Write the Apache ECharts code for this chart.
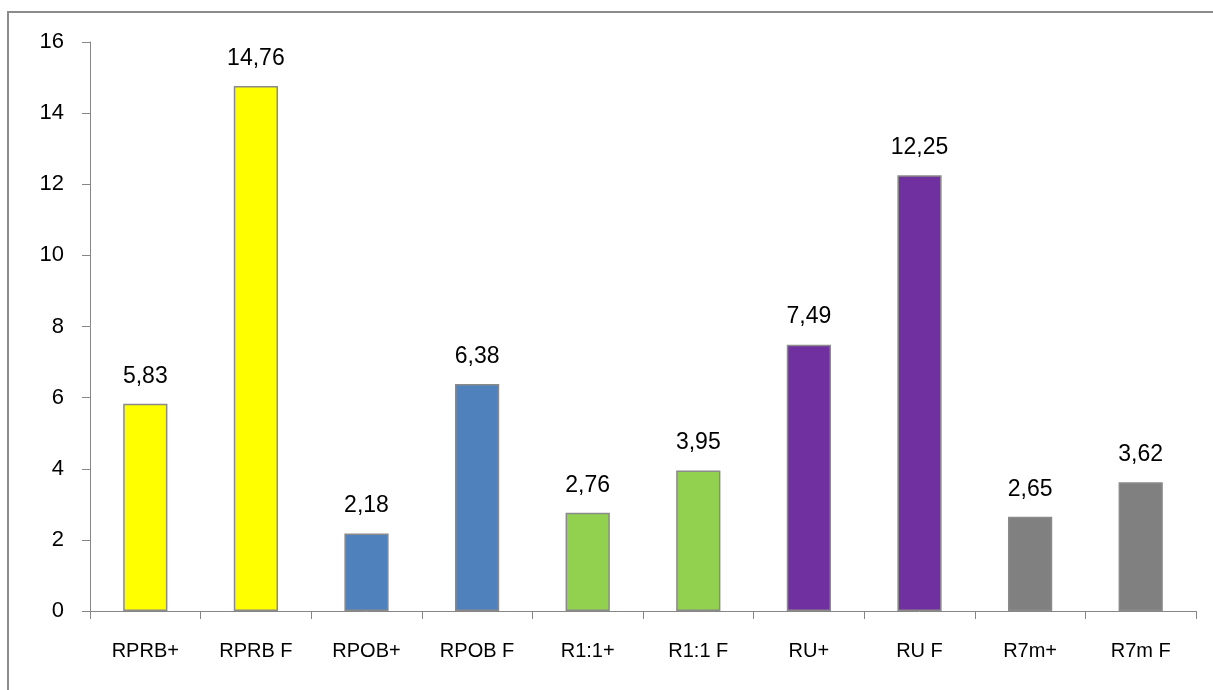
<!DOCTYPE html>
<html>
<head>
<meta charset="utf-8">
<script src="https://cdn.jsdelivr.net/npm/echarts@6/dist/echarts.min.js"></script>
<style>html,body{margin:0;padding:0;background:#fff}#c{width:1213px;height:690px}</style>
</head>
<body>
<div id="c"></div>
<script>
var categories = ['RPRB+', 'RPRB F', 'RPOB+', 'RPOB F', 'R1:1+', 'R1:1 F', 'RU+', 'RU F', 'R7m+', 'R7m F'];
var values = [5.83, 14.76, 2.18, 6.38, 2.76, 3.95, 7.49, 12.25, 2.65, 3.62];
var barColors = ['#FFFF00', '#FFFF00', '#4F81BD', '#4F81BD', '#92D050', '#92D050', '#7030A0', '#7030A0', '#808080', '#808080'];
var yTicks = [0, 2, 4, 6, 8, 10, 12, 14, 16];

var chart = echarts.init(document.getElementById('c'));
var font = 'Liberation Sans, Arial, sans-serif';
chart.setOption({
  animation: false,
  backgroundColor: '#fff',
  graphic: [{
    type: 'rect',
    shape: {x: 8, y: 12, width: 1215, height: 690},
    style: {fill: 'none', stroke: '#8c8c8c', lineWidth: 2},
    silent: true
  }],
  grid: {left: 90, right: 17, top: 42, bottom: 79},
  xAxis: {
    type: 'category',
    data: categories,
    boundaryGap: true,
    axisLine: {lineStyle: {color: '#868686', width: 1}},
    axisTick: {show: true, length: 8, lineStyle: {color: '#868686'}},
    axisLabel: {color: '#000', fontFamily: font, fontSize: 20, margin: 30}
  },
  yAxis: {
    type: 'value',
    min: yTicks[0],
    max: yTicks[yTicks.length - 1],
    interval: 2,
    splitLine: {show: false},
    axisLine: {show: true, lineStyle: {color: '#868686', width: 1}},
    axisTick: {show: true, length: 8, lineStyle: {color: '#868686'}},
    axisLabel: {color: '#000', fontFamily: font, fontSize: 22, margin: 26}
  },
  series: [{
    type: 'bar',
    barWidth: '40%',
    data: values.map(function (v, i) {
      return {value: v, itemStyle: {color: barColors[i]}};
    }),
    itemStyle: {borderColor: '#8a8a8a', borderWidth: 1.5},
    label: {
      show: true,
      position: 'top',
      distance: 16,
      color: '#000',
      fontFamily: font,
      fontSize: 23,
      formatter: function (p) { return p.value.toFixed(2).replace('.', ','); }
    }
  }]
});
</script>
</body>
</html>
